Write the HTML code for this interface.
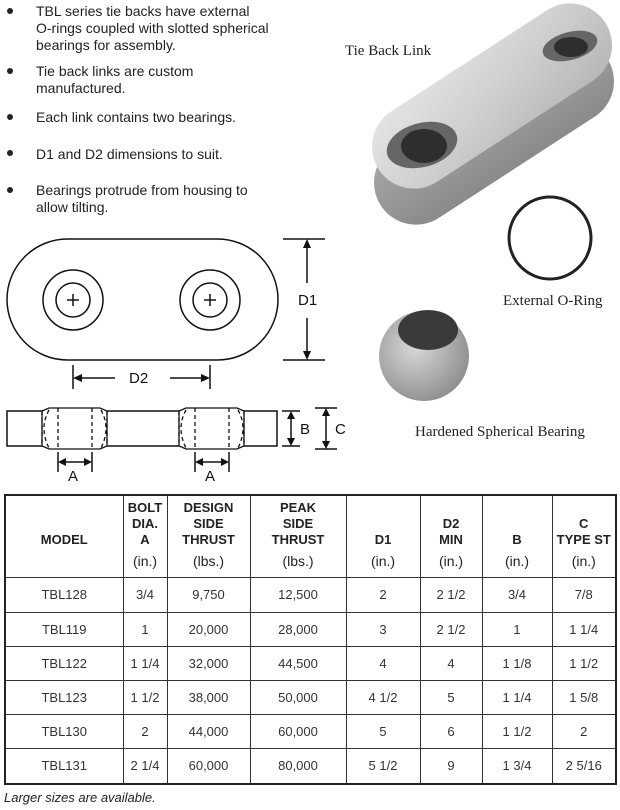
<!DOCTYPE html>
<html><head><style>
body{margin:0;width:620px;height:810px;background:#fff;position:relative;overflow:hidden;font-family:"Liberation Sans",sans-serif;color:#222}
svg{position:absolute;left:0;top:0}
table{position:absolute;left:4px;top:494px;border-collapse:collapse;font-size:13px;table-layout:fixed}
td{border:1px solid #333;text-align:center;padding:0;color:#333;line-height:15px}
table{border:2px solid #222}
th{border:1px solid #333;font-weight:bold;font-size:13px;color:#222;padding:0;line-height:16px;vertical-align:top}
.t{height:48px;display:flex;flex-direction:column;justify-content:flex-end;padding-top:4px}
.u{font-weight:normal;font-size:14px;margin-top:5px;line-height:16px}
</style></head><body>
<svg width="620" height="810" viewBox="0 0 620 810" font-family="Liberation Sans, sans-serif">
<defs>
<linearGradient id="g1" x1="0" y1="0" x2="1" y2="1"><stop offset="0" stop-color="#e6e6e6"/><stop offset="0.5" stop-color="#cfcfcf"/><stop offset="1" stop-color="#b5b5b5"/></linearGradient>
<linearGradient id="g3" x1="0" y1="0" x2="0" y2="1"><stop offset="0" stop-color="#a8a8a8"/><stop offset="1" stop-color="#8a8a8a"/></linearGradient>
<radialGradient id="g2" cx="0.4" cy="0.4" r="0.7"><stop offset="0" stop-color="#d8d8d8"/><stop offset="1" stop-color="#888"/></radialGradient>
</defs>
<g font-size="14" fill="#222">
<circle cx="10" cy="11" r="3"/><circle cx="10" cy="71" r="3"/><circle cx="10" cy="117" r="3"/><circle cx="10" cy="153" r="3"/><circle cx="10" cy="190" r="3"/>
<text x="36" y="16">TBL series tie backs have external</text>
<text x="36" y="33">O-rings coupled with slotted spherical</text>
<text x="36" y="50">bearings for assembly.</text>
<text x="36" y="76">Tie back links are custom</text>
<text x="36" y="93">manufactured.</text>
<text x="36" y="122">Each link contains two bearings.</text>
<text x="36" y="159">D1 and D2 dimensions to suit.</text>
<text x="36" y="195">Bearings protrude from housing to</text>
<text x="36" y="212">allow tilting.</text>
</g>
<g font-family="Liberation Serif, serif" font-size="15" fill="#222">
<text x="345" y="55">Tie Back Link</text>
<text x="503" y="305">External O-Ring</text>
<text x="415" y="436">Hardened Spherical Bearing</text>
</g>
<g transform="translate(494,132) rotate(-33)">
<rect x="-135" y="-42" width="270" height="84" rx="42" fill="url(#g3)"/>
</g>
<g transform="translate(492,96) rotate(-33)">
<rect x="-135" y="-42" width="270" height="84" rx="42" fill="url(#g1)"/>
</g>
<ellipse cx="422" cy="145" rx="36" ry="22" fill="#666" transform="rotate(-15 422 145)"/>
<ellipse cx="424" cy="146" rx="23" ry="17" fill="#2e2e2e"/>
<ellipse cx="570" cy="46" rx="28" ry="14" fill="#666" transform="rotate(-15 570 46)"/>
<ellipse cx="571" cy="47" rx="17" ry="10" fill="#2e2e2e"/>
<circle cx="550" cy="238" r="41" fill="none" stroke="#222" stroke-width="3"/>
<circle cx="424" cy="356" r="45" fill="url(#g2)"/>
<ellipse cx="428" cy="330" rx="30" ry="20" fill="#3a3a3a"/>
<g stroke="#111" fill="none" stroke-width="1.5">
<rect x="7" y="239" width="271" height="121" rx="60.5"/>
<circle cx="73" cy="300" r="30"/><circle cx="73" cy="300" r="17"/>
<circle cx="210" cy="300" r="30"/><circle cx="210" cy="300" r="17"/>
<path d="M67 300h12M73 294v12M204 300h12M210 294v12"/>
<path d="M283 239h42M283 360h42M307 245v38M307 318v36"/>
<path d="M73 365v24M210 365v24M78 378h37M170 378h35"/>
<rect x="7" y="411" width="270" height="35"/>
<path d="M282 411h18M282 446h18M291 417v23M315 408h22M315 449h22M326 414v29"/>
<path d="M58 452v20M92 452v20M63 462h24M195 452v20M229 452v20M200 462h24"/>
</g>
<g fill="#111">
<path d="M307 239l-4 9h8zM307 360l-4-9h8zM73 378l9-4v8zM210 378l-9-4v8zM291 411l-4 8h8zM291 446l-4-8h8zM326 408l-4 8h8zM326 449l-4-8h8zM58 462l8-4v8zM92 462l-8-4v8zM195 462l8-4v8zM229 462l-8-4v8z"/>
</g>
<g stroke="#111" fill="#fff" stroke-width="1.3">
<path d="M42 411l7-3h51l7 3v35l-7 3h-51l-7-3z"/>
<path d="M179 411l7-3h51l7 3v35l-7 3h-51l-7-3z"/>
</g>
<g stroke="#111" fill="none" stroke-width="1.3" stroke-dasharray="4,3">
<path d="M58 408v41M92 408v41M49 410q-10 18 0 38M101 410q10 18 0 38M42 411v35M107 411v35"/>
<path d="M195 408v41M229 408v41M186 410q-10 18 0 38M238 410q10 18 0 38M179 411v35M244 411v35"/>
</g>
<g font-size="15" fill="#111">
<text x="298" y="305">D1</text><text x="129" y="383">D2</text>
<text x="300" y="434">B</text><text x="335" y="434">C</text>
<text x="68" y="481">A</text><text x="205" y="481">A</text>
</g>
<text x="4" y="802" font-size="13" font-style="italic" fill="#222">Larger sizes are available.</text>
</svg>
<table>
<colgroup><col style="width:118px"><col style="width:44px"><col style="width:83px"><col style="width:96px"><col style="width:74px"><col style="width:62px"><col style="width:70px"><col style="width:64px"></colgroup>
<tr style="height:82px">
<th><div class="t">MODEL</div></th>
<th><div class="t">BOLT<br>DIA.<br>A</div><div class="u">(in.)</div></th>
<th><div class="t">DESIGN<br>SIDE<br>THRUST</div><div class="u">(lbs.)</div></th>
<th><div class="t">PEAK<br>SIDE<br>THRUST</div><div class="u">(lbs.)</div></th>
<th><div class="t">D1</div><div class="u">(in.)</div></th>
<th><div class="t">D2<br>MIN</div><div class="u">(in.)</div></th>
<th><div class="t">B</div><div class="u">(in.)</div></th>
<th><div class="t">C<br>TYPE ST</div><div class="u">(in.)</div></th>
</tr>
<tr style="height:35px"><td>TBL128</td><td>3/4</td><td>9,750</td><td>12,500</td><td>2</td><td>2 1/2</td><td>3/4</td><td>7/8</td></tr>
<tr style="height:34px"><td>TBL119</td><td>1</td><td>20,000</td><td>28,000</td><td>3</td><td>2 1/2</td><td>1</td><td>1 1/4</td></tr>
<tr style="height:34px"><td>TBL122</td><td>1 1/4</td><td>32,000</td><td>44,500</td><td>4</td><td>4</td><td>1 1/8</td><td>1 1/2</td></tr>
<tr style="height:34px"><td>TBL123</td><td>1 1/2</td><td>38,000</td><td>50,000</td><td>4 1/2</td><td>5</td><td>1 1/4</td><td>1 5/8</td></tr>
<tr style="height:34px"><td>TBL130</td><td>2</td><td>44,000</td><td>60,000</td><td>5</td><td>6</td><td>1 1/2</td><td>2</td></tr>
<tr style="height:36px"><td>TBL131</td><td>2 1/4</td><td>60,000</td><td>80,000</td><td>5 1/2</td><td>9</td><td>1 3/4</td><td>2 5/16</td></tr>
</table>
</body></html>
